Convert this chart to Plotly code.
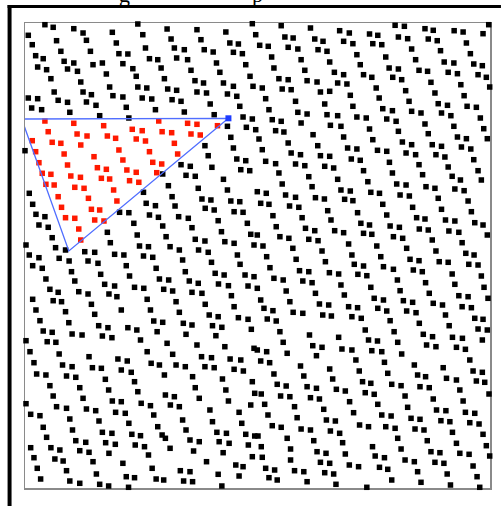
import plotly.graph_objects as go

# ---- data (chart units; x to the right, y downward, frame = [25,492] x [23,488]) ----
outside_pts = [
    # top-left block
    (45.0,24.7),(53.3,27.3),(74.0,28.7),(83.3,33.0),(138.3,24.0),(167.7,29.0),(28.3,35.3),(112.7,32.3),
    (143.3,34.7),(171.7,39.0),(32.3,44.7),(56.7,40.7),(86.7,40.3),(116.7,43.0),(146.0,48.0),(175.0,48.0),
    (35.7,55.7),(43.3,58.7),(61.0,51.3),(90.7,51.3),(119.3,53.7),(128.3,54.0),(150.0,58.7),(158.3,59.7),
    (177.3,58.0),(37.7,67.0),(46.7,69.7),(64.3,61.3),(74.0,63.0),(93.3,64.7),(102.7,63.0),(123.3,63.7),
    (133.3,68.7),(161.7,68.0),(51.0,78.7),(67.7,69.0),(77.7,71.3),(106.7,74.0),(136.7,76.3),(165.0,78.7),
    (81.0,82.0),(110.0,87.0),(138.3,87.0),(147.3,88.0),(168.3,89.0),(177.3,90.3),(54.3,92.0),(83.3,92.0),
    (91.7,94.7),(113.3,95.7),(123.3,97.0),(142.7,98.0),(152.3,99.0),(172.7,99.7),(28.3,98.0),(37.7,98.7),
    (58.3,100.3),(67.7,102.3),(86.7,102.0),(96.3,105.3),(126.7,107.3),(156.0,109.7),(31.7,108.0),(41.7,109.7),
    (70.0,112.3),(100.0,115.7),(129.3,118.0),(25.0,150.7),(163.3,174.0),
    # top-middle block
    (253.3,23.7),(282.3,25.7),(311.7,28.0),(197.7,29.7),(226.7,32.0),(256.7,34.7),(286.0,37.0),(294.3,38.0),
    (316.0,39.0),(324.3,41.3),(201.7,39.7),(230.7,43.0),(239.3,44.0),(260.7,45.3),(269.3,46.3),(289.3,47.3),
    (299.0,49.0),(319.3,49.7),(328.3,51.3),(185.0,49.7),(205.0,49.7),(214.0,52.0),(234.3,52.3),(243.3,53.7),
    (272.7,57.0),(302.3,59.7),(331.0,62.0),(188.3,59.7),(217.3,63.0),(246.7,64.7),(275.0,68.0),(306.0,70.3),
    (191.7,70.3),(220.7,72.3),(251.0,76.3),(280.0,78.7),(289.3,79.7),(308.3,80.7),(318.3,82.0),(195.7,80.7),
    (204.3,83.0),(224.3,83.0),(234.3,86.3),(254.0,86.3),(263.3,88.0),(283.3,89.0),(292.3,89.7),(321.7,92.0),
    (331.0,91.3),(197.7,92.0),(207.3,93.0),(228.3,94.0),(237.7,96.3),(266.7,98.7),(296.7,101.3),(326.0,104.0),
    (181.7,101.3),(211.0,104.0),(240.7,106.3),(270.0,109.7),(299.0,112.3),(308.3,114.0),(328.3,114.7),(185.0,112.0),
    (215.0,114.7),(244.0,117.0),(253.3,119.0),(273.3,119.7),(282.3,121.3),(302.3,123.0),(331.7,125.3),(228.3,126.3),
    (247.3,127.3),(256.7,129.7),(276.7,130.7),(285.0,132.0),(314.3,134.7),(231.7,137.3),(260.0,139.0),(289.3,143.0),
    (319.0,145.7),(205.7,145.7),(234.3,148.0),(263.3,149.7),(292.3,153.0),(301.7,154.7),(321.7,155.7),(331.0,156.3),
    (209.0,155.7),(237.7,159.0),(246.7,160.7),(266.7,161.3),(276.7,163.7),(296.7,164.0),(306.0,165.7),(326.0,166.3),
    (181.7,164.7),(191.0,166.3),(212.7,167.3),(241.7,169.7),(250.7,170.7),(280.0,173.0),(186.7,175.3),(196.0,176.3),
    # top-right block
    (396.7,25.3),(406.0,26.3),(426.7,28.7),(435.0,30.3),(456.0,30.7),(465.0,32.0),(490.7,24.7),(485.0,33.7),
    (341.0,30.7),(350.7,33.0),(371.0,34.0),(379.3,35.3),(400.0,37.0),(409.3,38.7),(430.0,39.0),(439.0,40.7),
    (468.3,43.0),(345.0,41.3),(354.3,43.7),(374.3,43.7),(383.3,44.7),(413.3,49.0),(442.3,50.7),(472.3,53.7),
    (358.3,54.7),(387.3,57.0),(417.3,59.7),(446.0,62.0),(455.7,63.0),(475.7,64.0),(484.3,65.7),(361.7,64.7),
    (390.7,68.0),(400.0,69.0),(420.7,70.3),(429.3,71.3),(450.0,72.3),(459.3,73.7),(480.0,74.7),(488.3,77.3),
    (335.7,72.3),(345.0,74.7),(365.0,74.7),(373.3,77.3),(394.3,77.3),(403.3,79.7),(432.7,82.3),(462.7,84.7),
    (491.7,87.0),(339.0,83.0),(348.3,84.0),(377.7,88.0),(407.3,90.7),(436.7,93.0),(466.0,95.7),(351.7,95.3),
    (380.7,98.0),(410.7,101.3),(440.0,103.7),(449.3,105.3),(469.0,106.3),(478.3,107.3),(354.3,106.3),(384.3,108.7),
    (394.0,110.7),(413.3,111.3),(422.7,113.0),(443.3,113.0),(452.7,115.7),(482.3,118.0),(339.0,115.7),(358.3,117.0),
    (367.7,118.0),(388.3,119.0),(397.7,121.3),(426.7,124.0),(455.7,126.3),(485.7,128.7),(342.3,126.3),(371.0,129.0),
    (400.0,131.3),(430.0,133.7),(459.3,137.0),(468.3,138.7),(489.3,138.7),(345.0,137.0),(374.3,139.7),(404.0,142.0),
    (413.3,144.7),(434.0,144.7),(443.3,146.3),(463.3,147.0),(472.7,149.0),(349.0,148.0),(358.3,149.0),(379.0,150.3),
    (388.3,151.3),(407.7,153.0),(417.3,154.7),(437.7,154.7),(446.7,157.0),(352.7,159.0),(361.7,160.3),(391.0,162.3),
    (420.7,164.7),(450.0,167.0),(475.7,159.7),(480.0,170.7),(335.0,168.0),(365.0,170.7),(394.0,173.0),(424.3,174.7),
    (454.0,176.3),
    # lower-left block
    (224.3,179.3),(169.0,185.7),(199.0,188.3),(228.3,190.0),(144.0,192.3),(29.3,193.3),
    (172.7,196.7),(202.7,199.0),(211.7,200.0),(231.7,201.0),(240.7,201.7),(146.7,203.3),(156.0,205.7),(32.7,204.3),
    (175.7,206.0),(206.0,208.3),(215.0,210.0),(235.0,211.7),(244.0,212.3),(120.0,212.3),(129.3,212.7),(150.0,215.0),
    (36.0,214.3),(45.0,216.7),(159.0,217.3),(179.3,216.7),(189.0,218.3),(219.0,220.7),(248.3,223.3),
    (39.0,225.0),(48.3,227.3),(134.3,223.3),(163.3,226.0),(192.7,227.7),(222.3,231.7),(251.7,234.3),(107.7,232.3),
    (52.3,237.7),(137.7,235.0),(166.7,236.7),(196.0,239.3),(205.7,241.0),(225.7,241.7),(235.0,243.3),(255.0,245.0),
    (110.7,242.7),(140.0,246.0),(149.0,246.7),(170.7,246.7),(180.0,250.0),(199.3,250.0),(209.0,252.3),(238.3,255.0),
    (26.0,245.0),(55.7,247.7),(65.7,250.0),(85.0,251.7),(95.0,252.3),(115.0,254.3),(124.3,255.0),(144.0,256.0),
    (153.3,257.3),(29.3,255.0),(39.0,257.7),(59.3,258.3),(69.3,261.0),(88.3,261.0),(98.3,263.3),(126.7,265.7),
    (156.7,268.3),(183.3,260.0),(212.3,262.3),(241.0,264.3),(32.7,265.7),(42.3,268.3),(71.7,271.7),(101.0,274.3),
    (130.0,276.0),(186.0,271.7),(216.0,273.3),(225.0,275.0),(246.0,275.0),(255.0,276.7),
    (46.0,279.0),(75.0,281.0),(105.0,284.3),(115.0,286.0),(135.0,287.3),(144.3,288.3),(160.0,279.0),(169.3,280.0),
    (190.0,281.0),(199.0,283.3),(219.3,284.0),(229.3,285.7),(249.0,286.0),(50.0,289.3),(58.3,292.3),(79.0,291.7),
    (88.3,294.0),(109.3,294.0),(117.3,296.7),(164.3,289.3),(173.3,291.0),(192.7,292.3),(202.7,293.3),(232.3,295.7),
    (32.7,299.3),(53.3,300.7),(61.7,301.7),(91.7,304.3),(147.7,299.3),(176.7,301.7),(206.0,304.3),(235.0,306.7),
    (36.0,310.0),(65.7,311.7),(95.0,314.3),(121.7,310.0),(151.0,310.0),(180.0,312.3),(210.0,315.0),(219.0,316.7),
    (239.3,317.7),(249.0,319.3),(40.0,320.7),(69.0,322.7),(99.0,325.7),(108.3,327.7),(128.3,327.7),(137.3,330.0),
    (154.3,321.0),(163.3,322.3),(184.0,323.3),(192.7,325.0),(213.3,325.7),(222.7,327.3),(252.3,329.3),(43.3,331.0),
    (52.3,332.3),(72.3,334.0),(82.3,335.0),(157.7,331.7),(186.7,334.3),(216.7,335.7),
    (102.7,336.0),(112.3,337.7),(141.0,340.0),(26.0,340.7),(47.3,341.7),(56.0,342.3),(167.7,343.3),(197.7,345.0),
    (225.7,346.7),(255.0,348.3),(30.0,351.7),(59.3,354.0),(89.3,356.7),(118.3,359.0),(127.7,361.0),(147.7,351.7),
    (173.3,354.3),(202.3,356.7),(212.3,357.7),(231.0,359.0),(241.7,360.0),
    (34.0,362.7),(62.7,365.0),(72.3,366.7),(92.7,367.7),(101.7,368.3),(121.7,370.0),(131.7,372.3),(151.7,363.3),
    (160.0,365.0),(176.7,365.0),(186.0,366.7),(205.7,366.7),(215.0,367.7),(235.0,369.3),(244.3,371.0),(36.7,374.0),
    (46.0,375.0),(66.7,376.0),(76.0,377.3),(105.7,379.3),(135.0,381.7),(165.0,375.0),(193.3,376.7),(223.3,379.0),
    (253.3,381.7),
    (50.0,385.7),(80.0,387.7),(109.0,390.0),(138.3,391.7),(166.0,395.0),(175.0,396.7),(196.0,387.7),(226.7,390.0),
    (255.7,393.3),(53.3,396.0),(83.3,398.3),
    (112.7,401.0),(121.7,401.7),(141.7,403.3),(151.0,405.7),(26.0,403.7),(56.7,406.7),(66.7,408.3),(86.7,409.0),
    (96.0,410.7),(116.0,412.3),(125.7,413.3),(154.3,415.0),(30.7,414.3),(40.0,415.7),(171.0,405.0),(180.0,406.7),
    (200.0,398.3),(210.7,410.0),(229.3,401.0),(240.0,412.3),(251.7,405.0),
    (70.0,419.0),(99.3,421.0),(129.3,423.3),(158.3,426.7),(43.3,427.3),(72.7,430.0),(102.7,432.3),(112.3,433.3),
    (132.3,434.3),(141.0,435.7),(183.3,420.0),(213.3,421.7),(242.7,423.3),(186.7,430.0),(162.7,435.0),(217.7,432.3),
    (227.3,433.3),(246.7,434.3),(255.7,436.0),
    (46.7,437.3),(76.0,440.7),(86.0,442.3),(106.0,442.7),(115.7,444.3),(135.7,445.0),(145.0,446.7),(166.0,438.3),
    (190.7,440.0),(200.0,441.7),(220.0,441.7),(230.0,443.3),(249.3,445.0),(30.7,447.7),(51.0,447.7),(60.0,450.0),
    (80.0,450.7),(89.3,452.3),(109.3,453.3),(149.0,455.0),(170.7,448.3),(194.3,451.0),(224.0,452.7),(253.3,456.7),
    (34.0,457.7),(55.0,459.0),(63.3,461.0),(93.3,461.7),(123.3,463.3),(152.7,468.3),(181.0,470.7),(190.7,471.7),
    (207.3,461.7),(236.7,465.0),(244.0,466.7),(37.3,468.3),(66.7,470.7),(96.7,474.0),(126.7,476.7),(135.0,477.7),
    (156.7,479.0),(164.3,480.0),(184.3,481.0),(193.3,481.7),(219.0,474.3),(240.0,476.0),(40.7,479.0),(70.0,481.0),
    (80.0,483.3),(100.0,484.3),(109.0,486.0),(129.0,487.3),(222.7,486.0),
    # lower-right block
    (310.0,176.7),(339.0,179.3),(369.3,181.7),(398.3,184.0),(407.7,185.0),(462.3,180.0),(483.3,180.0),(283.3,184.0),
    (258.3,191.7),(267.3,193.3),(286.7,195.0),(296.7,197.3),(313.3,186.7),(342.3,190.0),(351.7,191.0),(372.3,192.3),
    (381.0,193.3),(401.7,195.0),(411.0,196.0),(427.7,186.7),(436.7,188.3),(456.7,189.0),(466.0,190.7),(261.7,203.3),
    (270.0,204.3),(316.7,197.7),(325.7,199.0),(346.0,199.3),(354.3,200.7),(384.3,204.3),(414.3,207.3),(440.0,198.3),
    (470.0,201.0),(290.7,206.0),(300.0,207.3),(329.0,210.7),(359.0,212.7),(388.3,215.0),(418.3,217.7),(426.7,219.0),
    (443.3,209.3),(473.3,211.7),(274.0,215.7),
    (303.3,217.7),(332.3,220.0),(362.3,223.3),(371.0,225.0),(391.7,226.0),(401.0,227.3),(421.0,229.0),(430.0,230.0),
    (447.3,220.0),(456.7,221.0),(476.7,222.7),(485.0,225.0),(277.3,226.7),(306.7,228.3),(316.0,230.7),(336.0,230.7),
    (345.0,232.7),(365.0,233.3),(373.3,234.3),(450.7,231.0),(460.7,232.3),(489.3,235.0),(258.3,235.0),
    (281.0,236.7),(290.0,238.3),(310.0,239.3),(319.3,240.7),(395.0,236.7),(404.3,238.3),(434.0,240.0),(464.0,242.7),
    (264.0,246.0),(294.0,248.3),(323.3,251.0),(350.0,244.0),(378.3,246.0),(408.3,248.3),(437.7,251.0),(467.7,253.3),
    (476.0,255.0),(267.7,256.7),(297.3,259.3),(326.7,261.7),(353.3,255.0),(382.3,256.7),(411.7,259.3),(420.7,260.7),
    (441.0,261.7),(450.0,262.3),(470.7,264.3),(480.0,265.0),
    (271.0,267.7),(300.7,270.7),(310.0,271.7),(330.7,272.7),(340.0,274.0),(355.7,264.3),(365.0,266.0),(385.0,266.7),
    (395.0,269.3),(415.0,270.0),(424.0,271.7),(454.0,274.0),(483.3,276.0),(275.0,278.3),(284.3,280.0),(304.0,281.0),
    (313.3,282.7),(359.3,274.3),(368.3,275.7),(399.0,280.0),(427.3,282.7),(456.7,284.3),(486.0,287.3),(342.3,285.0),
    (287.3,291.0),(316.7,293.3),(345.7,295.0),(372.3,287.3),(401.7,290.7),(431.0,293.3),(460.7,295.7),(470.0,296.7),
    (490.0,298.3),(258.3,288.3),(261.7,300.0),(291.0,301.7),(320.7,304.0),(330.0,305.0),(350.0,306.7),(359.0,307.7),
    (375.7,298.3),(385.0,300.0),(405.0,300.7),(414.3,302.3),(435.0,303.3),(444.3,305.0),(464.0,306.7),(473.3,307.7),
    (265.0,308.3),(274.0,310.7),(294.3,312.3),(304.0,313.3),(324.0,315.0),(332.7,316.0),(353.3,316.7),(362.7,318.3),
    (379.3,308.3),(388.3,311.0),(408.3,311.0),(417.7,312.7),(447.3,315.0),(476.7,318.3),(485.0,319.3),(268.3,319.0),
    (277.3,321.0),(391.7,320.7),(421.0,323.3),(451.0,325.7),(480.0,329.0),(489.3,330.0),
    (281.0,331.7),(310.7,335.0),(340.0,337.3),(366.7,330.0),(370.0,340.0),(379.0,341.0),(395.7,331.7),(425.0,334.3),
    (434.3,336.7),(454.3,337.3),(464.3,338.3),(484.3,340.0),
    (284.3,342.3),(314.0,345.7),(323.3,347.3),(343.3,349.0),(353.3,350.0),(399.3,342.3),(428.3,345.0),(437.7,346.7),
    (458.3,347.3),(467.3,349.3),(258.3,350.0),(267.7,351.7),(288.3,353.3),(317.7,355.7),(357.3,360.0),(373.3,350.7),
    (383.3,351.7),(386.0,362.3),(403.3,354.0),(416.0,365.0),(471.7,360.0),(261.7,361.0),(270.7,362.7),
    (301.7,366.0),(331.0,369.0),(360.7,371.0),(389.3,373.3),(419.3,375.0),(427.3,376.7),(445.0,367.7),(448.3,378.3),
    (458.3,380.0),(475.0,371.0),(484.3,372.3),(275.0,374.0),(305.0,376.0),(334.0,379.0),
    (278.3,384.3),(287.3,386.0),(308.3,386.7),(317.7,388.3),(364.0,381.7),(372.3,383.3),(393.3,384.3),(402.7,385.7),
    (421.7,386.7),(431.0,387.7),(461.7,390.0),(478.3,381.0),(486.7,382.3),(337.7,389.3),(346.7,391.0),(491.0,394.0),
    (262.3,394.0),(281.7,396.0),(291.0,396.7),(311.7,397.7),(320.7,399.0),(366.7,392.7),(375.7,394.3),(406.7,396.0),
    (435.0,399.0),(465.0,401.0),
    (265.7,404.3),(295.7,406.7),(325.0,409.3),(351.0,401.7),(379.3,404.3),(409.3,407.3),(438.3,410.0),(447.7,410.7),
    (467.3,412.3),(476.7,413.3),(269.0,415.0),(298.3,417.7),(327.7,420.0),(336.7,421.0),(355.0,412.7),(383.3,415.0),
    (392.7,416.0),(412.7,418.3),(421.7,419.3),(442.7,420.7),(451.7,421.7),(471.7,422.7),(481.0,424.0),
    (273.3,425.7),(282.3,427.3),(302.3,429.0),(311.7,430.0),(331.7,431.0),(341.0,433.3),(361.0,425.0),(370.0,426.7),
    (387.3,426.7),(396.7,428.3),(416.7,429.0),(425.7,430.0),(454.3,432.3),(485.0,434.3),(259.0,436.0),(288.3,438.3),
    (315.0,440.7),(344.0,442.7),(374.0,446.7),(399.3,438.3),(429.0,440.7),(458.3,443.3),(488.3,445.7),
    (262.3,446.7),(291.7,449.0),(318.3,451.7),(327.3,453.3),(346.7,454.0),(376.7,456.0),(386.0,457.7),(402.7,449.0),
    (432.7,451.7),(441.7,452.7),(461.7,453.3),(471.0,454.3),(491.7,456.0),(263.3,457.3),(291.7,460.0),(321.7,462.3),
    (331.0,463.3),(350.7,465.0),(360.0,466.7),(406.7,460.0),(416.0,461.7),(436.7,462.3),(445.7,463.3),(475.0,466.0),
    (266.7,468.3),(275.7,470.0),(295.7,470.7),(305.0,471.7),(326.0,472.7),(335.0,474.0),(381.0,467.3),(389.3,469.3),
    (419.3,471.7),(449.0,474.0),(479.0,476.7),(270.0,477.7),(278.3,480.0),(308.3,481.7),(337.3,484.3),(368.3,487.3),
    (393.3,480.0),(422.7,482.3),(452.3,485.0),(481.7,487.3),
]

inside_pts = [
    (45.0,121.0),(74.0,123.3),(104.0,125.7),(132.7,129.3),(142.7,130.7),(159.3,121.0),(188.3,123.3),(197.7,124.3),
    (218.3,125.7),(32.3,140.7),(48.3,131.7),(52.3,142.3),(61.0,143.3),(35.7,151.7),(39.0,162.7),(42.3,173.3),
    (51.0,174.3),(64.3,154.0),(67.7,165.0),(71.0,176.0),(80.7,177.3),(77.3,134.0),(87.3,136.0),(81.0,145.0),
    (94.3,156.7),(97.7,167.7),(106.7,169.3),(101.7,178.3),(110.0,179.0),(107.7,136.0),(116.0,138.3),(119.3,150.0),
    (123.3,160.0),(127.3,170.0),(136.7,172.3),(130.0,180.7),(139.3,182.3),(136.7,139.0),(146.0,141.0),(150.0,151.7),
    (153.3,162.3),(162.3,164.0),(157.3,172.7),(162.7,131.7),(172.3,132.7),(175.0,143.3),(178.3,154.0),(191.7,134.0),
    (201.0,135.0),
    (46.0,184.3),(54.3,185.0),(75.0,187.3),(84.3,188.3),(114.0,190.0),(58.3,196.7),(88.7,198.3),(117.3,201.0),
    (61.7,207.3),(91.7,209.3),(100.0,210.0),(65.7,217.7),(75.0,218.3),(95.0,220.0),(104.3,221.0),(79.0,229.0),
    (81.0,240.0),
]

triangle_x = [21.7, 229.3, 69.0, 21.7]
triangle_y = [119.0, 118.3, 251.0, 119.0]
last_vertex_x = [229.3]
last_vertex_y = [118.3]

title_glyphs = ["g", "p"]

# ---- figure ----
W, H = 502, 506
ML, MR, MT, MB = 25, 10, 23, 18
PW, PH = W - ML - MR, H - MT - MB


def px2paper_x(px):
    return (px - ML) / PW


def px2paper_y(py):
    return 1 - (py - MT) / PH


fig = go.Figure()
fig.add_trace(go.Scatter(
    x=[p[0] for p in outside_pts], y=[p[1] for p in outside_pts], mode="markers",
    marker=dict(symbol="square", size=5.5, color="black", line=dict(width=0)),
    cliponaxis=False, hoverinfo="skip"))
fig.add_trace(go.Scatter(
    x=[p[0] for p in inside_pts], y=[p[1] for p in inside_pts], mode="markers",
    marker=dict(symbol="square", size=5.5, color="rgb(255,25,0)", line=dict(width=0)),
    cliponaxis=False, hoverinfo="skip"))
fig.add_trace(go.Scatter(
    x=triangle_x, y=triangle_y, mode="lines",
    line=dict(color="rgb(80,110,255)", width=1.3), cliponaxis=False, hoverinfo="skip"))
fig.add_trace(go.Scatter(
    x=last_vertex_x, y=last_vertex_y, mode="markers",
    marker=dict(symbol="square", size=6, color="rgb(30,60,255)", line=dict(width=0)),
    cliponaxis=False, hoverinfo="skip"))

axis_common = dict(showgrid=False, zeroline=False, showticklabels=False, ticks="",
                   showline=True, mirror=True, linecolor="#8a8a8a", linewidth=1.5,
                   layer="below traces")
fig.update_xaxes(range=[ML, W - MR], **axis_common)
fig.update_yaxes(range=[H - MB, MT], **axis_common)

# outer black frame pieces (cropped figure border)
fig.add_shape(type="rect", xref="paper", yref="paper",
              x0=px2paper_x(7.5), x1=px2paper_x(503), y0=px2paper_y(5), y1=px2paper_y(8),
              fillcolor="black", line=dict(width=0))
fig.add_shape(type="rect", xref="paper", yref="paper",
              x0=px2paper_x(7.5), x1=px2paper_x(11.5), y0=px2paper_y(5), y1=px2paper_y(507),
              fillcolor="black", line=dict(width=0))

# cut-off title text (only descenders visible)
for txt, gx in zip(title_glyphs, [125, 259]):
    fig.add_annotation(text=txt, xref="paper", yref="paper", x=px2paper_x(gx), y=px2paper_y(9),
                       xanchor="center", yanchor="bottom", showarrow=False,
                       font=dict(family="Liberation Serif", size=22, color="black"))

fig.update_layout(width=W, height=H, margin=dict(l=ML, r=MR, t=MT, b=MB, pad=0),
                  paper_bgcolor="white", plot_bgcolor="white", showlegend=False)

fig.write_html("out.html", config={"displayModeBar": False, "staticPlot": True},
               post_script="document.body.style.margin='0';document.body.style.overflow='hidden';")
